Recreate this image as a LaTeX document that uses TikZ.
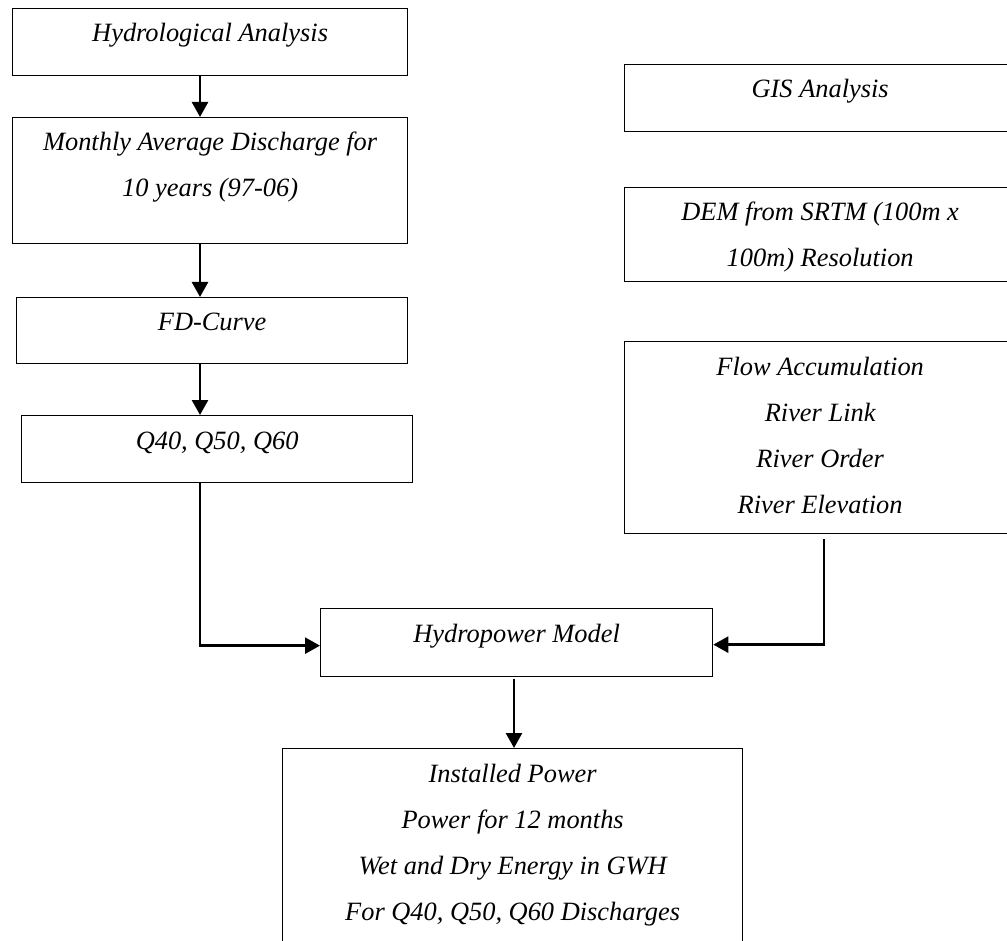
\documentclass[tikz,border=0pt]{standalone}
\usepackage{fontspec}
\setmainfont{Liberation Serif}
\usetikzlibrary{arrows.meta}
\begin{document}
\begin{tikzpicture}[x=1pt,y=-1pt,
  box/.style={draw=black, line width=1.3pt, rectangle, inner sep=0pt, anchor=north west},
  txt/.style={font=\fontsize{26.4}{46}\selectfont\itshape, align=center, anchor=base, inner sep=0pt},
  arr/.style={line width=2.6pt, -{Triangle[length=15pt,width=16pt]}}]
\useasboundingbox (0,0) rectangle (1007,941);
\clip (0,0) rectangle (1007,941);

% hydrological branch
\node[box, minimum width=395pt, minimum height=67pt]  (h1)  at (12,8)   {};
\node[box, minimum width=395pt, minimum height=126pt] (h2)  at (12,117) {};
\node[box, minimum width=391pt, minimum height=66pt]  (fd)  at (16,297) {};
\node[box, minimum width=391pt, minimum height=67pt]  (q)   at (21,415) {};

% GIS branch
\node[box, minimum width=391pt, minimum height=67pt]  (gis)  at (624,64)  {};
\node[box, minimum width=391pt, minimum height=94pt]  (dem)  at (624,187) {};
\node[box, minimum width=391pt, minimum height=192pt] (flow) at (624,341) {};

% model and results
\node[box, minimum width=392pt, minimum height=68pt]  (hydro) at (320,608) {};
\node[box, minimum width=460pt, minimum height=230pt] (out)   at (282,748) {};

% box texts (anchored at the baseline of the last line; lines are 46pt apart)
\node[txt] (h1t) at ([yshift=-34pt]h1.north) {Hydrological Analysis};
\node[txt] (h2t) at ([yshift=-80pt]h2.north) {Monthly Average Discharge for\\10 years (97-06)};
\node[txt] (fdt) at ([yshift=-34pt]fd.north) {FD-Curve};
\node[txt] (qt)  at ([yshift=-34pt]q.north)  {Q40, Q50, Q60};
\node[txt] (gist) at ([yshift=-34pt]gis.north) {GIS Analysis};
\node[txt] (demt) at ([yshift=-80pt]dem.north) {DEM from SRTM (100m x\\100m) Resolution};
\node[txt] (flowt) at ([yshift=-172pt]flow.north) {Flow Accumulation\\River Link\\River Order\\River Elevation};
\node[txt] (hydrot) at ([yshift=-34pt]hydro.north) {Hydropower Model};
\node[txt] (outt) at ([yshift=-172pt]out.north) {Installed Power\\Power for 12 months\\Wet and Dry Energy in GWH\\For Q40, Q50, Q60 Discharges};

% connectors
\coordinate (lx) at (200,0);
\coordinate (rx) at (824,0);
\coordinate (bx) at (514,0);
\draw[arr] (h1.south -| lx) -- (h2.north -| lx);
\draw[arr] (h2.south -| lx) -- (fd.north -| lx);
\draw[arr] (fd.south -| lx) -- (q.north -| lx);
\draw[arr] (q.south -| lx) |- ([yshift=-3pt]hydro.west);
\draw[arr, shorten <=5pt] (flow.south -| rx) |- ([yshift=-2pt]hydro.east);
\draw[arr, shorten <=2pt] (hydro.south -| bx) -- (out.north -| bx);
\end{tikzpicture}
\end{document}
